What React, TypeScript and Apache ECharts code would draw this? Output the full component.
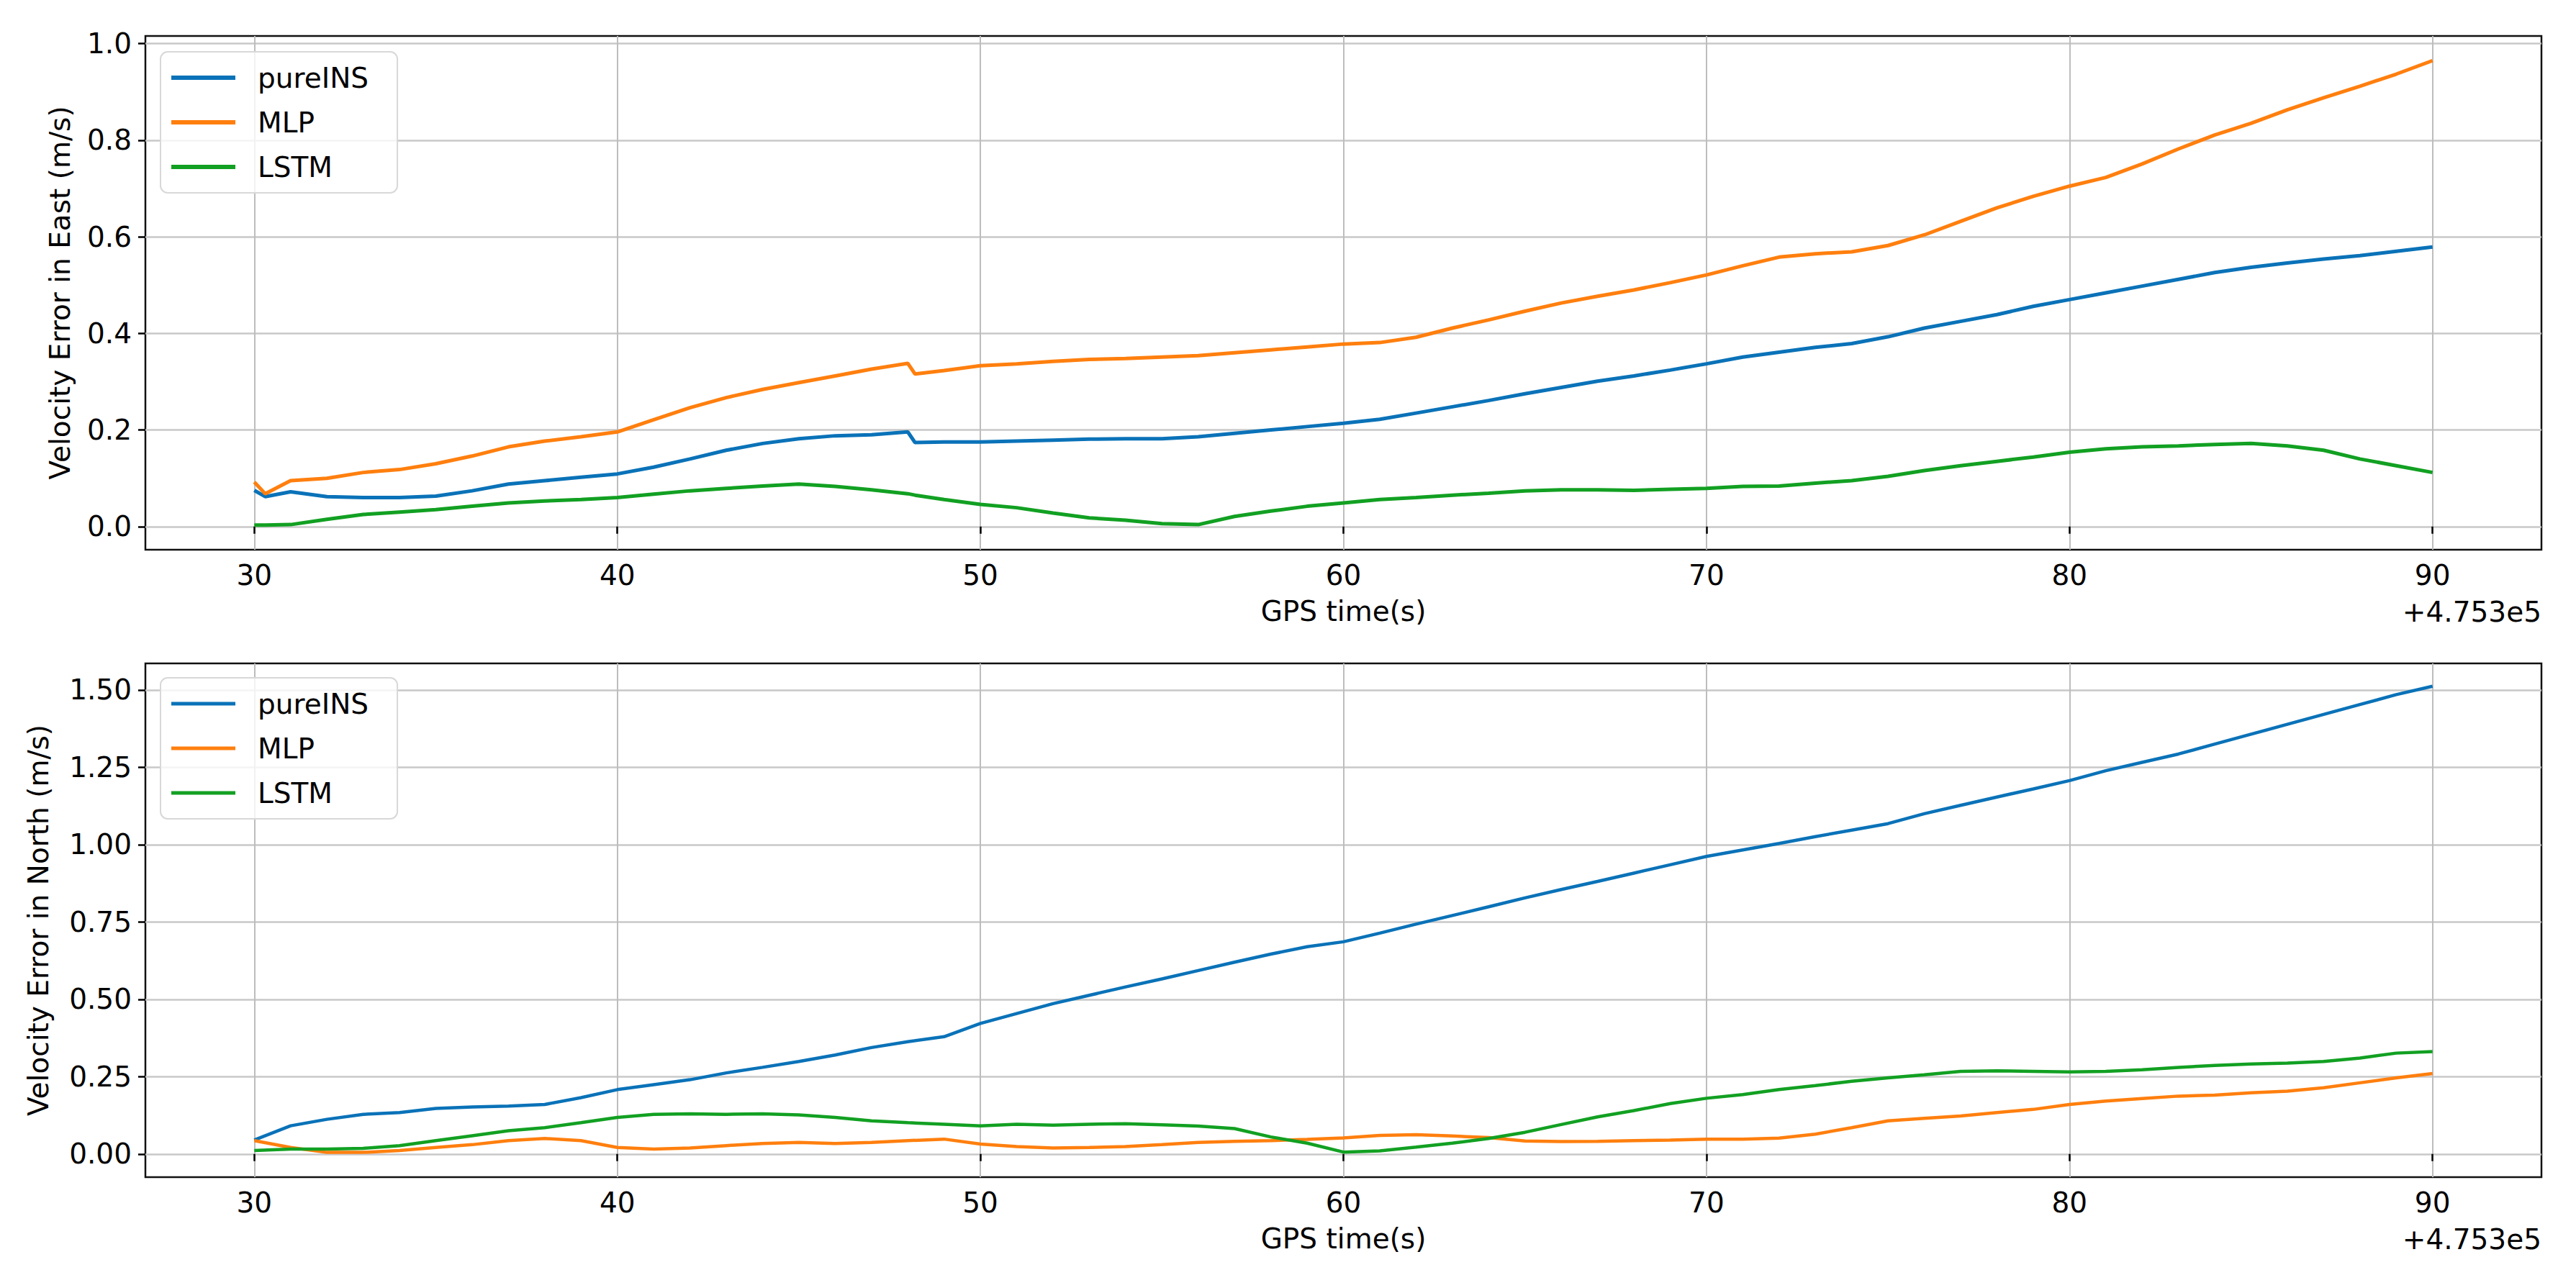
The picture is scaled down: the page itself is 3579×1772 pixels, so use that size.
import React, { useEffect, useRef } from "react";
import * as echarts from "echarts";

// ---------- data ----------
const seriesNames = ["pureINS", "MLP", "LSTM"];
const seriesColors = ["#0a72b8", "#ff7f0e", "#12a022"];

const xTicks = [30, 40, 50, 60, 70, 80, 90];
const yTicksEast = [0, 0.2, 0.4, 0.6, 0.8, 1.0];
const yTicksNorth = [0, 0.25, 0.5, 0.75, 1.0, 1.25, 1.5];
const offsetText = "+4.753e5";

// East panel time stamps (s, minus 4.753e5)
const timeEast = [
  30, 30.3, 31, 32, 33, 34, 35, 36, 37, 38, 39, 40, 41, 42, 43, 44, 45, 46, 47, 48, 48.2,
  49, 50, 51, 52, 53, 54, 55, 56, 57, 58, 59, 60, 61, 62, 63, 64, 65, 66, 67, 68, 69, 70,
  71, 72, 73, 74, 75, 76, 77, 78, 79, 80, 81, 82, 83, 84, 85, 86, 87, 88, 89, 90,
];
const pureINSEast = [
  0.075, 0.062, 0.072, 0.062, 0.06, 0.06, 0.063, 0.074, 0.088, 0.095, 0.102, 0.109, 0.123, 0.14,
  0.158, 0.172, 0.182, 0.188, 0.19, 0.196, 0.174,
  0.175, 0.175, 0.177, 0.179, 0.181, 0.182, 0.182, 0.186, 0.193, 0.2, 0.207, 0.214, 0.222, 0.235,
  0.248, 0.261, 0.275, 0.288, 0.301, 0.312, 0.324, 0.337,
  0.351, 0.361, 0.371, 0.379, 0.393, 0.411, 0.425, 0.439, 0.456, 0.47, 0.484, 0.498, 0.512, 0.526,
  0.537, 0.546, 0.554, 0.561, 0.57, 0.579,
];
const mlpEast = [
  0.092, 0.068, 0.095, 0.1, 0.112, 0.118, 0.13, 0.146, 0.165, 0.177, 0.186, 0.196, 0.221, 0.246,
  0.267, 0.284, 0.298, 0.312, 0.326, 0.338, 0.316,
  0.323, 0.333, 0.337, 0.342, 0.346, 0.348, 0.351, 0.354, 0.36, 0.366, 0.372, 0.378, 0.381, 0.392,
  0.411, 0.428, 0.446, 0.463, 0.477, 0.49, 0.505, 0.521,
  0.54, 0.558, 0.565, 0.569, 0.582, 0.604, 0.632, 0.66, 0.684, 0.705, 0.723, 0.751, 0.782, 0.811,
  0.835, 0.863, 0.888, 0.912, 0.937, 0.965,
];
const lstmEast = [
  0.003, 0.003, 0.004, 0.015, 0.025, 0.03, 0.035, 0.042, 0.049, 0.053, 0.056, 0.06, 0.067, 0.074,
  0.079, 0.084, 0.088, 0.083, 0.076, 0.068, 0.065,
  0.056, 0.046, 0.039, 0.028, 0.018, 0.013, 0.006, 0.004, 0.021, 0.032, 0.042, 0.049, 0.056, 0.06,
  0.065, 0.069, 0.074, 0.076, 0.076, 0.075, 0.077, 0.079,
  0.083, 0.084, 0.09, 0.095, 0.104, 0.116, 0.126, 0.135, 0.144, 0.154, 0.161, 0.165, 0.167, 0.17,
  0.172, 0.167, 0.158, 0.14, 0.126, 0.112,
];

// North panel time stamps
const timeNorth = [
  30, 31, 32, 33, 34, 35, 36, 37, 38, 39, 40, 41, 42, 43, 44, 45, 46, 47, 48, 49, 50, 51, 52, 53,
  54, 55, 56, 57, 58, 59, 60, 61, 62, 63, 64, 65, 66, 67, 68, 69, 70, 71, 72, 73, 74, 75, 76, 77,
  78, 79, 80, 81, 82, 83, 84, 85, 86, 87, 88, 89, 90,
];
const pureINSNorth = [
  0.045, 0.091, 0.112, 0.128, 0.134, 0.147, 0.152, 0.155, 0.16, 0.182, 0.208, 0.224, 0.24, 0.262,
  0.28, 0.299, 0.32, 0.344, 0.363, 0.379, 0.422, 0.454, 0.486, 0.513, 0.54, 0.566, 0.593, 0.62,
  0.646, 0.67, 0.686, 0.714, 0.743, 0.771, 0.799, 0.828, 0.855, 0.881, 0.908, 0.935, 0.962, 0.983,
  1.004, 1.026, 1.047, 1.068, 1.1, 1.127, 1.154, 1.18, 1.207, 1.239, 1.266, 1.293, 1.325, 1.357,
  1.389, 1.421, 1.453, 1.485, 1.512,
];
const mlpNorth = [
  0.043, 0.021, 0.005, 0.005, 0.011, 0.021, 0.03, 0.043, 0.05, 0.043, 0.021, 0.016, 0.019, 0.027,
  0.034, 0.037, 0.034, 0.037, 0.043, 0.048, 0.032, 0.024, 0.019, 0.021, 0.024, 0.03, 0.037, 0.041,
  0.043, 0.047, 0.052, 0.06, 0.062, 0.058, 0.053, 0.042, 0.04, 0.041, 0.043, 0.045, 0.048, 0.048,
  0.051, 0.064, 0.085, 0.107, 0.115, 0.123, 0.134, 0.144, 0.16, 0.171, 0.179, 0.187, 0.19, 0.198,
  0.203, 0.214, 0.23, 0.246, 0.26,
];
const lstmNorth = [
  0.011, 0.016, 0.016, 0.018, 0.027, 0.043, 0.059, 0.075, 0.085, 0.101, 0.118, 0.128, 0.13, 0.128,
  0.13, 0.126, 0.118, 0.107, 0.101, 0.096, 0.091, 0.096, 0.093, 0.096, 0.098, 0.094, 0.09, 0.082,
  0.055, 0.035, 0.006, 0.01, 0.022, 0.035, 0.05, 0.07, 0.095, 0.12, 0.14, 0.163, 0.18, 0.192,
  0.208, 0.221, 0.235, 0.246, 0.256, 0.267, 0.269, 0.267, 0.265, 0.267, 0.272, 0.28, 0.286, 0.291,
  0.294, 0.299, 0.31, 0.326, 0.331,
];

const eastValues = [pureINSEast, mlpEast, lstmEast];
const northValues = [pureINSNorth, mlpNorth, lstmNorth];

// ---------- styling ----------
const FONT = "DejaVu Sans";
const FS = 39;
const W = 3579;
const H = 1772;

function xAxisFor(gridIndex: number) {
  return {
    type: "value",
    gridIndex,
    min: 27,
    max: 93,
    name: "GPS time(s)",
    nameLocation: "middle",
    nameGap: 66,
    nameTextStyle: { fontFamily: FONT, fontSize: FS, color: "#000" },
    axisLine: { show: false },
    axisTick: {
      show: true,
      length: 10,
      customValues: xTicks,
      lineStyle: { color: "#000", width: 2.5 },
    },
    axisLabel: {
      customValues: xTicks,
      margin: 16,
      fontFamily: FONT,
      fontSize: FS,
      color: "#000",
    },
    splitLine: { show: true, lineStyle: { color: "#bdbdbd", width: 2 } },
  };
}

function yAxisFor(gridIndex: number, min: number, max: number, ticks: number[], name: string, gap: number, dec: number) {
  return {
    type: "value",
    gridIndex,
    min,
    max,
    name,
    nameLocation: "middle",
    nameGap: gap,
    nameTextStyle: { fontFamily: FONT, fontSize: FS, color: "#000" },
    axisLine: { show: false },
    axisTick: {
      show: true,
      length: 10,
      customValues: ticks,
      lineStyle: { color: "#000", width: 2.5 },
    },
    axisLabel: {
      customValues: ticks,
      margin: 19,
      fontFamily: FONT,
      fontSize: FS,
      color: "#000",
      formatter: (v: number) => v.toFixed(dec),
    },
    splitLine: { show: true, lineStyle: { color: "#c8c8c8", width: 2.5 } },
  };
}

function legendFor(top: number, iconH: number) {
  return {
    left: 223,
    top,
    orient: "vertical",
    icon: "rect",
    itemWidth: 89,
    itemHeight: iconH,
    itemGap: 18,
    padding: [14, 40, 14, 15],
    backgroundColor: "rgba(255,255,255,0.8)",
    borderColor: "#d8d8d8",
    borderWidth: 2,
    borderRadius: 10,
    data: seriesNames,
    textStyle: {
      fontFamily: FONT,
      fontSize: FS,
      color: "#000",
      lineHeight: 44,
      padding: [0, 0, 0, 26],
    },
  };
}

export default function App() {
  const ref = useRef<HTMLDivElement>(null);

  useEffect(() => {
    document.body.style.margin = "0";
    if (!ref.current) return;
    const chart = echarts.init(ref.current, undefined, { renderer: "svg" });

    const series: any[] = [];
    seriesNames.forEach((name, i) => {
      series.push({
        name,
        type: "line",
        xAxisIndex: 0,
        yAxisIndex: 0,
        showSymbol: false,
        symbol: "none",
        color: seriesColors[i],
        lineStyle: { color: seriesColors[i], width: 5 },
        data: timeEast.map((t, k) => [t, eastValues[i][k]]),
      });
    });
    seriesNames.forEach((name, i) => {
      series.push({
        name,
        type: "line",
        xAxisIndex: 1,
        yAxisIndex: 1,
        showSymbol: false,
        symbol: "none",
        color: seriesColors[i],
        lineStyle: { color: seriesColors[i], width: 4.5 },
        data: timeNorth.map((t, k) => [t, northValues[i][k]]),
      });
    });

    const option: any = {
      animation: false,
      backgroundColor: "#fff",
      textStyle: { fontFamily: FONT },
      grid: [
        { left: 202, right: W - 3531, top: 50, height: 714, show: true, borderColor: "#111", borderWidth: 2.5, backgroundColor: "transparent" },
        { left: 202, right: W - 3531, top: 922, height: 714, show: true, borderColor: "#111", borderWidth: 2.5, backgroundColor: "transparent" },
      ],
      xAxis: [xAxisFor(0), xAxisFor(1)],
      yAxis: [
        yAxisFor(0, -0.048, 1.016, yTicksEast, "Velocity Error in East (m/s)", 99, 1),
        yAxisFor(1, -0.075, 1.586, yTicksNorth, "Velocity Error in North (m/s)", 129, 2),
      ],
      legend: [legendFor(72, 6), legendFor(942, 5)],
      graphic: [
        {
          type: "text",
          x: 3531,
          y: 850,
          style: { text: offsetText, textAlign: "right", textVerticalAlign: "middle", font: `${FS}px "${FONT}"`, fill: "#000" },
        },
        {
          type: "text",
          x: 3531,
          y: 1722,
          style: { text: offsetText, textAlign: "right", textVerticalAlign: "middle", font: `${FS}px "${FONT}"`, fill: "#000" },
        },
      ],
      series,
    };
    chart.setOption(option);
    return () => chart.dispose();
  }, []);

  return <div ref={ref} style={{ width: W, height: H }} />;
}
